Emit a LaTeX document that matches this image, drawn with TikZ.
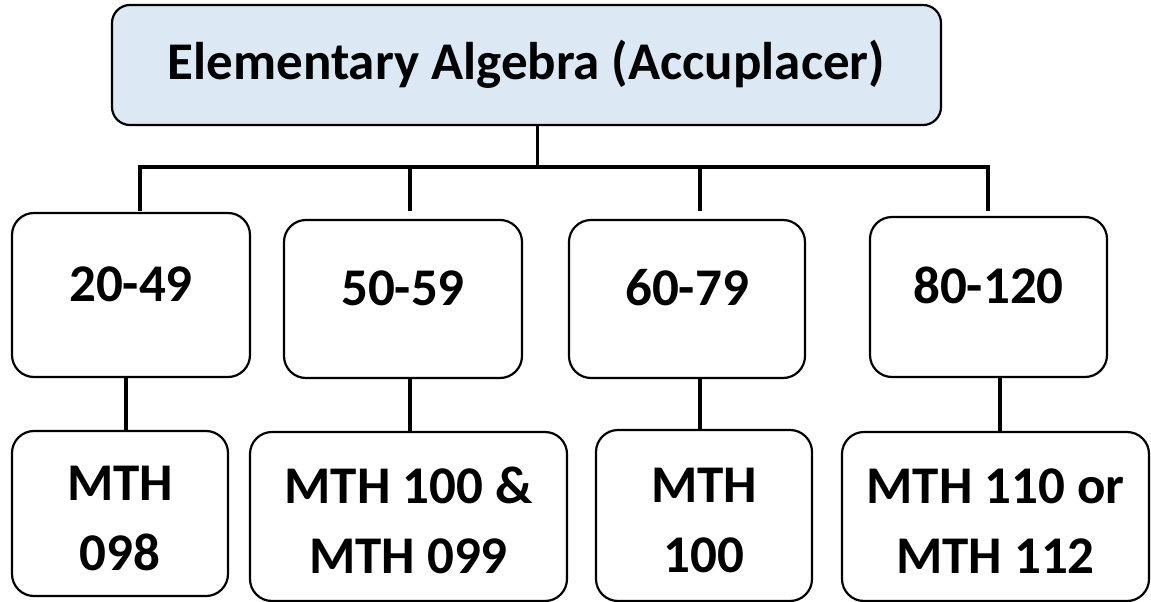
\documentclass[tikz,border=0pt]{standalone}
\usepackage{fontspec}
\setmainfont{Carlito}
\usetikzlibrary{calc}
\definecolor{headblue}{RGB}{221,232,245}

\begin{document}
\begin{tikzpicture}[x=1pt, y=-1pt,
    box/.style={draw=black, line width=2.2pt, rounded corners=22pt, inner sep=0pt},
    rangebox/.style={box, font=\fontsize{53}{60}\selectfont\bfseries, text height=34pt, text depth=22pt},
    coursebox/.style={box, align=center, font=\fontsize{53}{70}\selectfont\bfseries, text height=114pt, text depth=0pt},
    link/.style={draw=black, line width=3.8pt}
  ]
  \useasboundingbox (0,0) rectangle (1151,602);

  % test name
  \node[box, fill=headblue, rounded corners=18pt, minimum width=829pt, minimum height=120pt,
        font=\fontsize{53}{60}\selectfont\bfseries, text height=36pt, text depth=6pt]
    (head) at (526.5,65) {Elementary Algebra (Accuplacer)};

  % score ranges
  \node[rangebox, minimum width=238pt, minimum height=164pt] (a1) at (131,295) {20-49};
  \node[rangebox, minimum width=238pt, minimum height=158pt] (a2) at (403,299) {50-59};
  \node[rangebox, minimum width=236pt, minimum height=158pt] (a3) at (687,299) {60-79};
  \node[rangebox, minimum width=237pt, minimum height=160pt] (a4) at (988.5,297) {80-120};

  % placement
  \node[coursebox, minimum width=216pt, minimum height=165pt] (b1) at (120,513.5) {MTH\\098};
  \node[coursebox, minimum width=317pt, minimum height=169pt] (b2) at (408.5,516.5) {MTH 100 \&\\MTH 099};
  \node[coursebox, minimum width=216pt, minimum height=171pt] (b3) at (704,515.5) {MTH\\100};
  \node[coursebox, minimum width=307pt, minimum height=169pt] (b4) at (995.5,516.5) {MTH 110 or\\MTH 112};

  \coordinate (hub) at (537,167);
  \coordinate (busl) at (140,167);
  \coordinate (busr) at (988,167);
  \draw[link, line width=3pt] ([xshift=10.5pt]head.south) -- (hub);
  \draw[link] ([yshift=1pt]busl |- a1.north) -- (busl) -- (busr) -- ([yshift=5pt]busr |- a4.north);
  \draw[link] (hub -| a2.north) ++(7,0) coordinate (d2) -- ([yshift=8pt]d2 |- a2.north);
  \draw[link] (hub -| a3.north) ++(13,0) coordinate (d3) -- ([yshift=8pt]d3 |- a3.north);

  \foreach \i/\dx in {1/-5, 2/7, 3/13, 4/11.5}
    \draw[link] ([xshift=\dx pt]a\i.south) -- ([xshift=\dx pt]a\i.south |- b\i.north);
\end{tikzpicture}
\end{document}
